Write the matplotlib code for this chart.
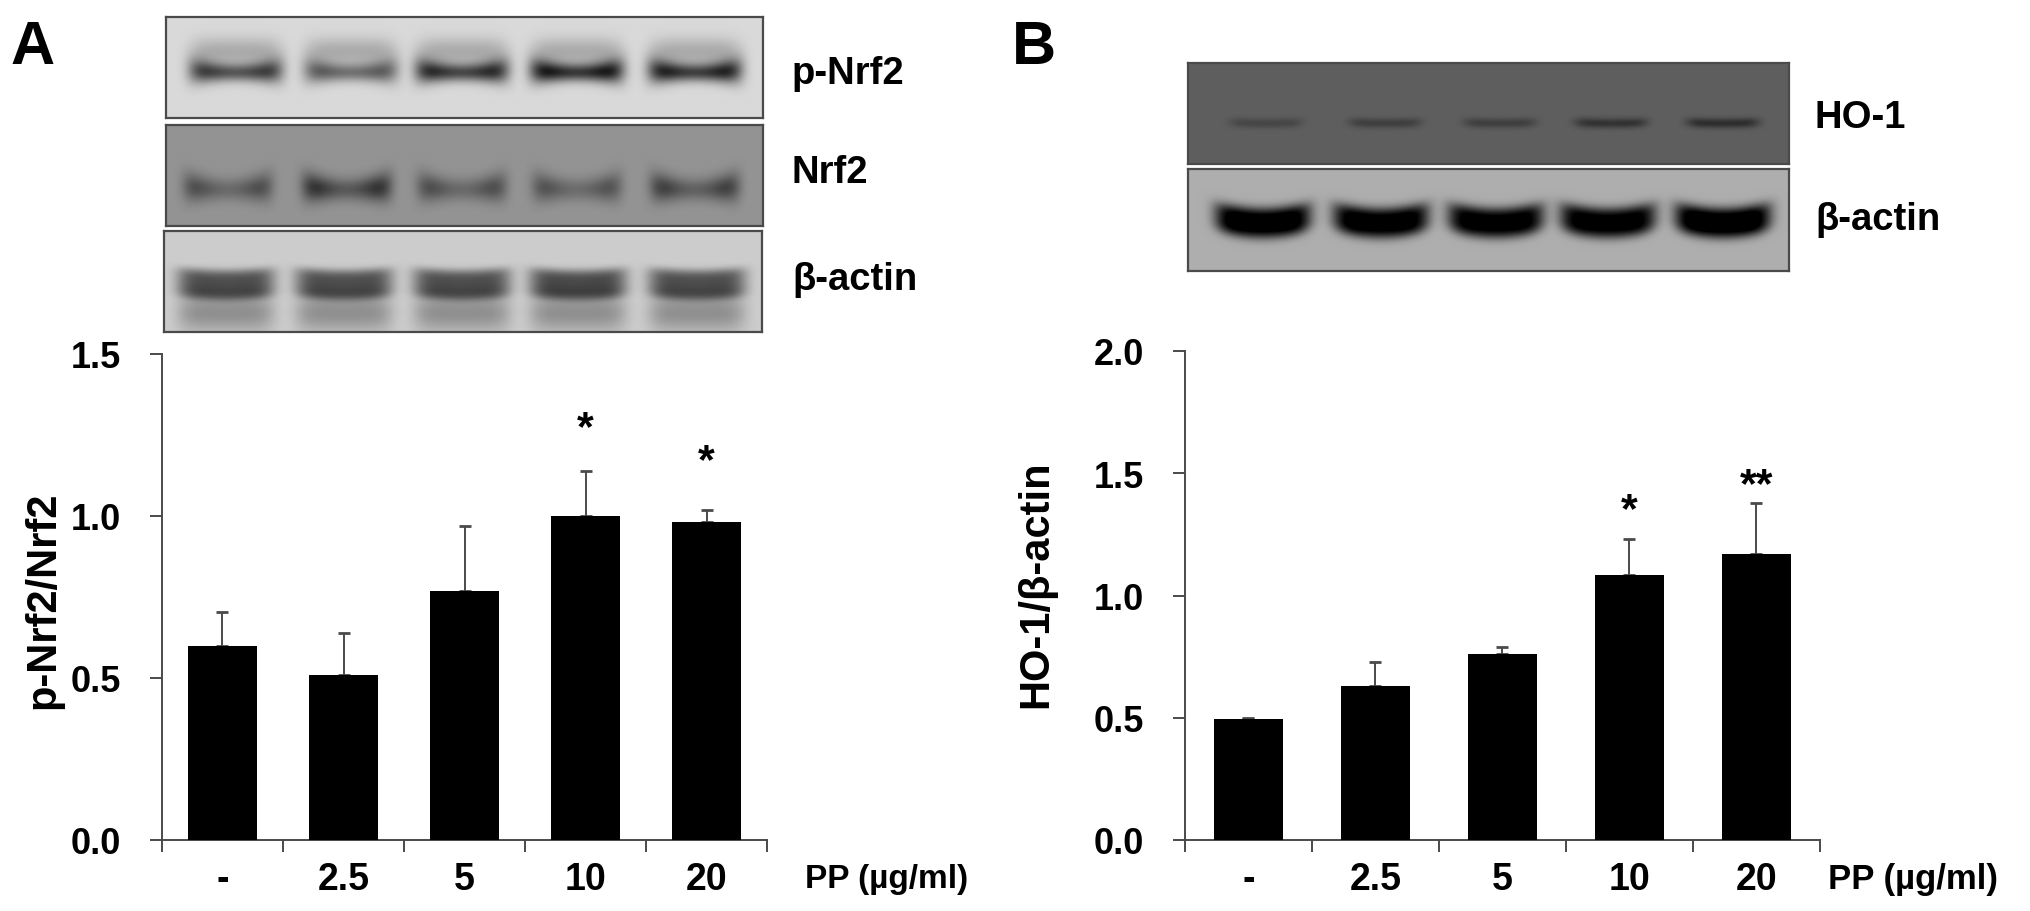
import numpy as np
import matplotlib
matplotlib.use("Agg")
import matplotlib.pyplot as plt

plt.rcParams['font.family'] = ['Liberation Sans', 'DejaVu Sans']
plt.rcParams['font.weight'] = 'bold'

W, H = 2031, 912
DARK = '#4a4a4a'

categories = ['-', '2.5', '5', '10', '20']
a_values = [0.60, 0.51, 0.77, 1.00, 0.98]
a_tops = [0.705, 0.64, 0.97, 1.14, 1.02]
a_star_labels = ['', '', '', '*', '*']
a_star_y = [None, None, None, 1.272, 1.17]
b_values = [0.495, 0.63, 0.76, 1.085, 1.17]
b_tops = [0.50, 0.73, 0.79, 1.23, 1.38]
b_star_labels = ['', '', '', '*', '**']
b_star_y = [None, None, None, 1.35, 1.453]

# lane centres (pixels) and relative band strength of the western blots
pnrf2_lanes = [236, 351, 462, 577, 695]
pnrf2_amp = [0.66, 0.52, 0.74, 0.82, 0.78]
nrf2_lanes = [228, 347, 462, 577, 695]
nrf2_amp = [0.30, 0.42, 0.30, 0.28, 0.36]
actA_lanes = [226, 344, 462, 578, 697]
actA_amp = [0.50, 0.50, 0.50, 0.52, 0.50]
ho1_lanes = [1266, 1385, 1500, 1611, 1723]
ho1_amp = [0.10, 0.13, 0.13, 0.18, 0.20]
actB_lanes = [1263, 1381, 1496, 1608, 1723]
actB_amp = [0.85, 0.82, 0.80, 0.80, 0.88]


def blot(box, bg, lanes, amps, yc, half, sy, smile=4.0, edge=0.25, smear=0.0,
         lower=0.0, flare=0.0, power=2):
    x0, y0, x1, y1 = box
    xs, ys = np.meshgrid(np.arange(x0, x1) + .5, np.arange(y0, y1) + .5)
    img = np.full(xs.shape, float(bg))
    for xc, amp in zip(lanes, amps):
        u = (xs - xc) / half
        env = np.exp(-u ** 6)
        prof = 1 + edge * (u ** 2 - 0.5)
        yy = ys - yc + smile * (u ** 2 - .3)
        width = sy * (1 + flare * u ** 2)
        img -= amp * env * prof * np.exp(-np.abs(yy / width) ** power)
        if smear:
            img -= smear * env * np.exp(-((ys - yc + 2.3 * sy) / (1.5 * sy)) ** 2)
        if lower:
            img -= lower * env * np.exp(-((ys - yc - 1.9 * sy) / (1.3 * sy)) ** 2)
    ax = fig.add_axes([x0 / W, 1 - y1 / H, (x1 - x0) / W, (y1 - y0) / H])
    ax.imshow(np.clip(img, 0, 1), cmap='gray', vmin=0, vmax=1, aspect='auto',
              interpolation='bilinear')
    ax.set_xticks([]); ax.set_yticks([])
    for s in ax.spines.values():
        s.set_linewidth(1.6); s.set_color('#4a4a4a')


def panel(box, ylim, yticks, vals, tops, star_labels, star_y, ylabel, ylab_x, ylab_y,
          ptext_x, ptext_size, barw):
    x0, y0, x1, y1 = box
    ax = fig.add_axes([x0 / W, 1 - y1 / H, (x1 - x0) / W, (y1 - y0) / H])
    x = np.arange(len(vals))
    err = np.array(tops) - np.array(vals)
    ax.bar(x, vals, width=barw, color='black', zorder=3)
    ax.errorbar(x, vals, yerr=[np.zeros_like(err), err], fmt='none', ecolor=DARK,
                elinewidth=1.4, capsize=4.5, capthick=2.0, zorder=2)
    ax.set_xlim(-.5, len(vals) - .5)
    ax.set_ylim(*ylim)
    ax.set_yticks(yticks)
    ax.set_yticklabels([f'{t:.1f}' for t in yticks], fontsize=26, fontweight='bold')
    ax.set_xticks(np.arange(len(vals) + 1) - .5)
    ax.set_xticklabels([])
    ax.set_xticks(x, minor=True)
    ax.set_xticklabels(categories, minor=True, fontsize=27, fontweight='bold')
    ax.tick_params(axis='x', which='major', length=8.6, width=1.4, color=DARK)
    ax.tick_params(axis='x', which='minor', length=0, pad=15)
    ax.tick_params(axis='y', length=8.6, width=1.4, color=DARK, pad=21)
    for s in ('top', 'right'):
        ax.spines[s].set_visible(False)
    for s in ('left', 'bottom'):
        ax.spines[s].set_linewidth(1.4)
        ax.spines[s].set_color(DARK)
    for xi, lab, sy in zip(x, star_labels, star_y):
        if lab:
            ax.text(xi, sy, lab, ha='center', va='center', fontsize=31, fontweight='bold')
    fig.text(ylab_x / W, 1 - ylab_y / H, ylabel, rotation=90, ha='center',
             va='center', fontsize=30, fontweight='bold')
    fig.text(ptext_x / W, 1 - 880 / H, 'PP (µg/ml)', ha='left', va='center',
             fontsize=ptext_size, fontweight='bold')


fig = plt.figure(figsize=(W / 100, H / 100), dpi=100, facecolor='white')

blot((166, 18, 763, 119), .85, pnrf2_lanes, pnrf2_amp, 73, 45, 9, smile=2, edge=.5,
     smear=.18, flare=.5)
blot((166, 126, 763, 227), .58, nrf2_lanes, nrf2_amp, 190, 42, 11, smile=3, edge=.9,
     flare=.4)
blot((164, 232, 762, 333), .80, actA_lanes, actA_amp, 285, 48, 15, smile=3, edge=.1,
     lower=.24, power=4)
blot((1188, 64, 1789, 165), .37, ho1_lanes, ho1_amp, 124, 36, 5, smile=1, edge=.1)
blot((1188, 170, 1789, 272), .68, actB_lanes, actB_amp, 222, 47, 15, smile=7, edge=.1,
     power=3)

panel((162, 355, 767, 841), (0, 1.5), [0, .5, 1, 1.5], a_values, a_tops, a_star_labels,
      a_star_y, 'p-Nrf2/Nrf2', 43, 600, 805, 24, .57)
panel((1185, 352, 1820, 841), (0, 2.0), [0, .5, 1, 1.5, 2], b_values, b_tops, b_star_labels,
      b_star_y, 'HO-1/β-actin', 1036, 584, 1828, 25, .543)

blot_labels = [('p-Nrf2', 792, 74), ('Nrf2', 792, 173), ('β-actin', 792, 280),
               ('HO-1', 1815, 118), ('β-actin', 1815, 220)]
for txt, px, py in blot_labels:
    fig.text(px / W, 1 - py / H, txt, ha='left', va='center', fontsize=27.5, fontweight='bold')

for txt, px, py in [('A', 10, 49), ('B', 1012, 49)]:
    fig.text(px / W, 1 - py / H, txt, ha='left', va='center', fontsize=44, fontweight='bold')

fig.savefig('out.png', dpi=100)
